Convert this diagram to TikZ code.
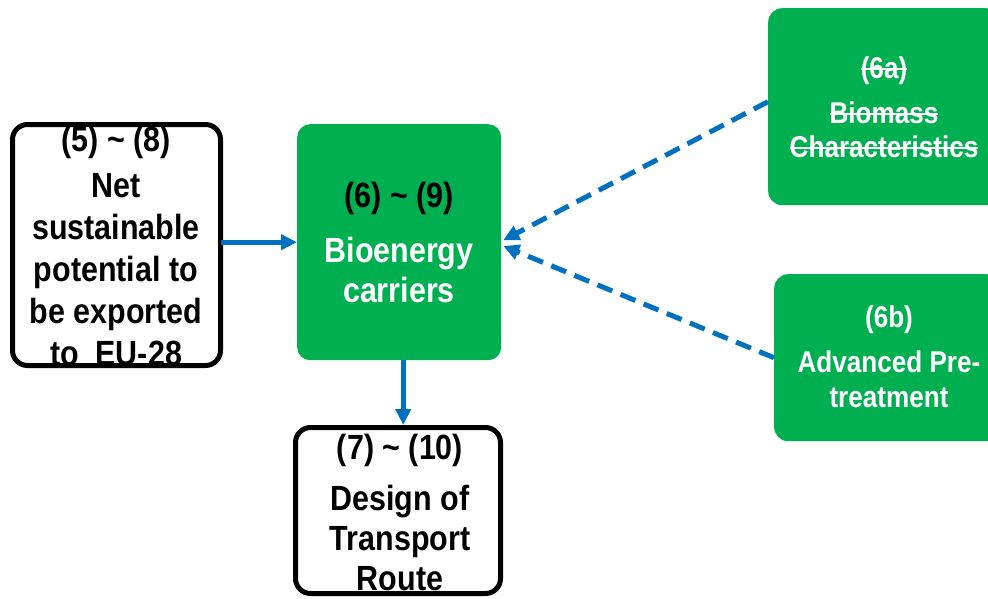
\documentclass[tikz,border=0pt]{standalone}
\usepackage{fontspec}
\setmainfont{Liberation Sans}[FakeStretch=0.87]
\usetikzlibrary{arrows.meta,calc}
\definecolor{boxgreen}{HTML}{00B050}
\definecolor{linkblue}{HTML}{0070C0}
% struck-through text: a thin rule through the middle of the word
\newcommand\strk[1]{\setbox0\hbox{#1}\rlap{\rule[0.28em]{\wd0}{0.07em}}\box0}
\tikzset{
  greenbox/.style={fill=boxgreen, rounded corners=13pt, inner sep=0pt, anchor=north west},
  outlinebox/.style={draw=black, line width=5pt, rounded corners=15pt, inner sep=0pt, anchor=north west},
  txt/.style={anchor=base, inner sep=0pt, font=\bfseries\fontsize{35}{42}\selectfont},
  wtxt/.style={txt, text=white},
  rtxt/.style={anchor=base, inner sep=0pt, text=white, font=\bfseries\fontsize{30}{35}\selectfont},
  flow/.style={draw=linkblue, line width=5pt, -{Triangle[length=16pt,width=15pt]}},
  feed/.style={flow, dash pattern=on 16pt off 9pt},
}
\begin{document}
\begin{tikzpicture}[x=1pt, y=-1pt]
\clip (0,0) rectangle (988,598);

% boxes
\node[outlinebox, minimum width=208pt, minimum height=241pt] (lbox) at (10,122) {};
\node[greenbox, minimum width=204pt, minimum height=236pt] (cbox) at (297,124) {};
\node[greenbox, rounded corners=14pt, minimum width=232pt, minimum height=197pt] (tbox) at (768,8) {};
\node[greenbox, rounded corners=14pt, minimum width=226pt, minimum height=167pt] (rbox) at (774,274) {};
\node[outlinebox, minimum width=205pt, minimum height=166pt] (bbox) at (293,425) {};

% left box text, cut off at the inner edge of the frame
\begin{scope}
\clip (0,0) rectangle (240,363);
\node[txt] (l1) at (116,151) {(5) \textasciitilde{} (8)};
\node[txt] (l2) at (116,197) {Net};
\node[txt] (l3) at (116,239) {sustainable};
\node[txt] (l4) at (116,281) {potential to};
\node[txt] (l5) at (116,323) {be exported};
\node[txt] (l6) at (116,365) {to\ \ EU-28};
\end{scope}

% centre box text
\node[txt] (c1) at (399,207) {(6) \textasciitilde{} (9)};
\node[wtxt] (c2) at (399,262) {Bioenergy};
\node[wtxt] (c3) at (399,302) {carriers};

% upper right box text (struck through)
\node[rtxt] (t1) at (884,78) {\strk{(6a)}};
\node[rtxt] (t2) at (884,123) {\strk{Biomass}};
\node[rtxt] (t3) at (884,157) {\strk{Characteristics}};

% lower right box text
\node[rtxt] (r1) at (889,327) {(6b)};
\node[rtxt] (r2) at (889,372) {Advanced Pre-};
\node[rtxt] (r3) at (889,407) {treatment};

% bottom box text
\node[txt] (b1) at (400,459) {(7) \textasciitilde{} (10)};
\node[txt] (b2) at (400,510) {Design of};
\node[txt] (b3) at (400,550) {Transport};
\node[txt] (b4) at (400,590) {Route};

% connectors
\draw[flow] ([xshift=-2pt]lbox.east |- cbox.west) -- (cbox.west);
\draw[flow] ([xshift=4pt]cbox.south) -- ([xshift=4pt]cbox.south |- bbox.north);
\draw[feed, shorten >=2pt] ([yshift=5pt]tbox.west) -- ([yshift=1pt]cbox.east);
\draw[feed, shorten >=2pt] (rbox.west) -- ([yshift=-3pt]cbox.east);
\end{tikzpicture}
\end{document}
